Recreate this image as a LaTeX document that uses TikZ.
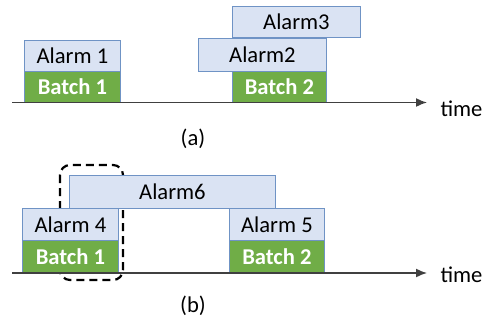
\documentclass[tikz,border=0pt]{standalone}
\usepackage{fontspec}
\setmainfont{Carlito}
\usetikzlibrary{arrows.meta}
\definecolor{alarmfill}{HTML}{DAE3F3}
\definecolor{boxline}{HTML}{6F93C5}
\definecolor{batchfill}{HTML}{70AD47}
\definecolor{axisgray}{HTML}{404040}

\begin{document}
\begin{tikzpicture}[x=1pt, y=-1pt,
        txt/.style={font=\fontsize{22.6}{27}\selectfont},
        alarm/.style={txt, draw=boxline, fill=alarmfill, line width=0.9pt,
            anchor=north west, inner sep=0pt, minimum height=#1},
        alarm/.default=31pt,
        batch/.style={alarm=#1, fill=batchfill, text=white, font=\fontsize{22.6}{27}\selectfont\bfseries},
        batch/.default=31pt,
        timeaxis/.style={axisgray, line width=1.5pt, -{Latex[length=11pt, width=9pt]}}]

        \useasboundingbox (0,0) rectangle (491,322);

        \node[alarm, minimum width=96pt] (al1) at (24,40) {Alarm 1};
        \node[batch, minimum width=96pt] (ba1) at (24,71) {Batch 1};

        \node[alarm, minimum width=128pt] (al3) at (232,6) {Alarm3};
        \node[alarm=33pt, minimum width=128pt] (al2) at (198,38) {Alarm2};
        \node[batch, minimum width=94pt] (ba2) at (232,71) {Batch 2};

        \coordinate (ta0) at (12,102.5);
        \coordinate (ta1) at (427,102.5);
        \draw[timeaxis] (ta0) -- (ta1);
        \node[txt, anchor=base west] (tta) at (437,116.5) {time};
        \node[txt] (capa) at (193,139) {(a)};

        \draw[black, line width=2.2pt, dash pattern=on 8pt off 5pt, rounded corners=10pt]
            (60,165) rectangle (123,280);

        \node[alarm=33pt, minimum width=206pt] (al6) at (69,175) {Alarm6};
        \node[alarm=32pt, minimum width=96pt] (al4) at (22,208) {Alarm 4};
        \node[batch=33pt, minimum width=96pt] (bb1) at (22,240) {Batch 1};
        \node[alarm=32pt, minimum width=95pt] (al5) at (229,208) {Alarm 5};
        \node[batch=33pt, minimum width=95pt] (bb2) at (229,240) {Batch 2};

        \coordinate (tb0) at (12,273);
        \coordinate (tb1) at (427,273);
        \draw[timeaxis] (tb0) -- (tb1);
        \node[txt, anchor=base west] (ttb) at (437,282.5) {time};
        \node[txt] (capb) at (193,306) {(b)};

\end{tikzpicture}
\end{document}
